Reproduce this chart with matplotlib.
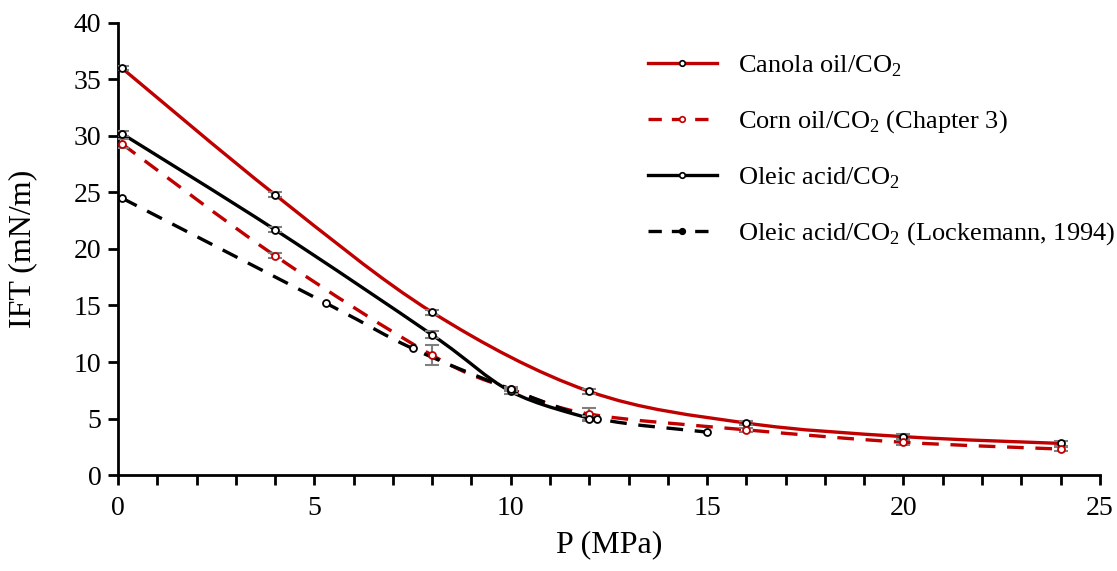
import matplotlib
matplotlib.use("Agg")
import matplotlib.pyplot as plt
from matplotlib.path import Path
from matplotlib.patches import PathPatch
from matplotlib.ticker import MultipleLocator
from matplotlib.lines import Line2D

plt.rcParams['font.family'] = ['Liberation Serif', 'DejaVu Serif']
plt.rcParams['mathtext.fontset'] = 'custom'
plt.rcParams['mathtext.rm'] = 'Liberation Serif'

# data
p_canola = [0.1, 4, 8, 12, 16, 20, 24]
ift_canola = [36.0, 24.8, 14.4, 7.4, 4.6, 3.4, 2.8]
err_canola = [0.2, 0.2, 0.2, 0.2, 0.2, 0.2, 0.2]

p_corn = [0.1, 4, 8, 10, 12, 16, 20, 24]
ift_corn = [29.3, 19.4, 10.6, 7.6, 5.4, 4.0, 2.9, 2.3]
err_corn = [0.4, 0.2, 0.9, 0.2, 0.5, 0.2, 0.2, 0.2]

p_oleic = [0.1, 4, 8, 10, 12]
ift_oleic = [30.2, 21.7, 12.4, 7.4, 5.0]
err_oleic = [0.2, 0.2, 0.3, 0.2, 0.2]

p_lock = [0.1, 5.3, 7.5, 10, 12.2, 15]
ift_lock = [24.5, 15.2, 11.2, 7.6, 5.0, 3.8]

labels = ["Canola oil/CO$_2$", "Corn oil/CO$_2$ (Chapter 3)",
          "Oleic acid/CO$_2$", "Oleic acid/CO$_2$ (Lockemann, 1994)"]

red = '#c00000'


def smooth_path(xs, ys):
    # Excel style smoothed line drawn as cubic bezier through the points
    pts = list(zip(xs, ys))
    verts = [pts[0]]
    codes = [Path.MOVETO]
    n = len(pts)
    for i in range(n - 1):
        p0 = pts[i - 1] if i > 0 else pts[i]
        p1 = pts[i]
        p2 = pts[i + 1]
        p3 = pts[i + 2] if i + 2 < n else pts[i + 1]
        c1 = (p1[0] + (p2[0] - p0[0]) / 6, p1[1] + (p2[1] - p0[1]) / 6)
        c2 = (p2[0] - (p3[0] - p1[0]) / 6, p2[1] - (p3[1] - p1[1]) / 6)
        verts += [c1, c2, p2]
        codes += [Path.CURVE4] * 3
    return Path(verts, codes)


fig = plt.figure(figsize=(11.17, 5.71), dpi=100)
ax = fig.add_axes([0.1056, 0.168, 0.879, 0.792])

lw = 2.4
dash = (0, (5, 3.5))

series = [
    (p_canola, ift_canola, err_canola, red, '-', 'black'),
    (p_corn, ift_corn, err_corn, red, dash, red),
    (p_oleic, ift_oleic, err_oleic, 'black', '-', 'black'),
    (p_lock, ift_lock, None, 'black', dash, 'black'),
]

for xs, ys, errs, col, ls, mec in series:
    patch = PathPatch(smooth_path(xs, ys), facecolor='none', edgecolor=col,
                      lw=lw, linestyle=ls, zorder=2, capstyle='butt')
    ax.add_patch(patch)
    if errs is not None:
        ax.errorbar(xs, ys, yerr=errs, fmt='none', ecolor='#7f7f7f',
                    elinewidth=1.5, capsize=5, capthick=1.5, zorder=3)
    ax.plot(xs, ys, linestyle='none', marker='o', ms=5, mfc='white',
            mec=mec, mew=1.3, zorder=4)

ax.set_xlim(0, 25)
ax.set_ylim(0, 40)
ax.xaxis.set_major_locator(MultipleLocator(5))
ax.xaxis.set_minor_locator(MultipleLocator(1))
ax.yaxis.set_major_locator(MultipleLocator(5))

for s in ['top', 'right']:
    ax.spines[s].set_visible(False)
for s in ['left', 'bottom']:
    ax.spines[s].set_linewidth(2)
ax.tick_params(axis='both', which='major', direction='out', length=7,
               width=2, labelsize=20, pad=5)
ax.tick_params(axis='x', which='major', pad=8)
ax.tick_params(axis='x', which='minor', direction='out', length=7, width=2)

ax.set_xlabel("P (MPa)", fontsize=23, labelpad=7)
ax.set_ylabel("IFT (mN/m)", fontsize=23, labelpad=26)

handles = [
    Line2D([], [], color=red, lw=lw, marker='o', ms=4, mfc='white', mec='black', mew=1.2),
    Line2D([], [], color=red, lw=lw, ls=(0, (4, 3)), marker='o', ms=4, mfc='white', mec=red, mew=1.2),
    Line2D([], [], color='black', lw=lw, marker='o', ms=4, mfc='white', mec='black', mew=1.2),
    Line2D([], [], color='black', lw=lw, ls=(0, (4, 3)), marker='o', ms=4, mfc='black', mec='black', mew=1.2),
]
ax.legend(handles, labels, loc='upper left', bbox_to_anchor=(0.54, 0.933),
          frameon=False, fontsize=19, numpoints=1, handlelength=2.6,
          handletextpad=0.8, labelspacing=1.13, borderpad=0, borderaxespad=0)

fig.savefig("out.png", dpi=100)
